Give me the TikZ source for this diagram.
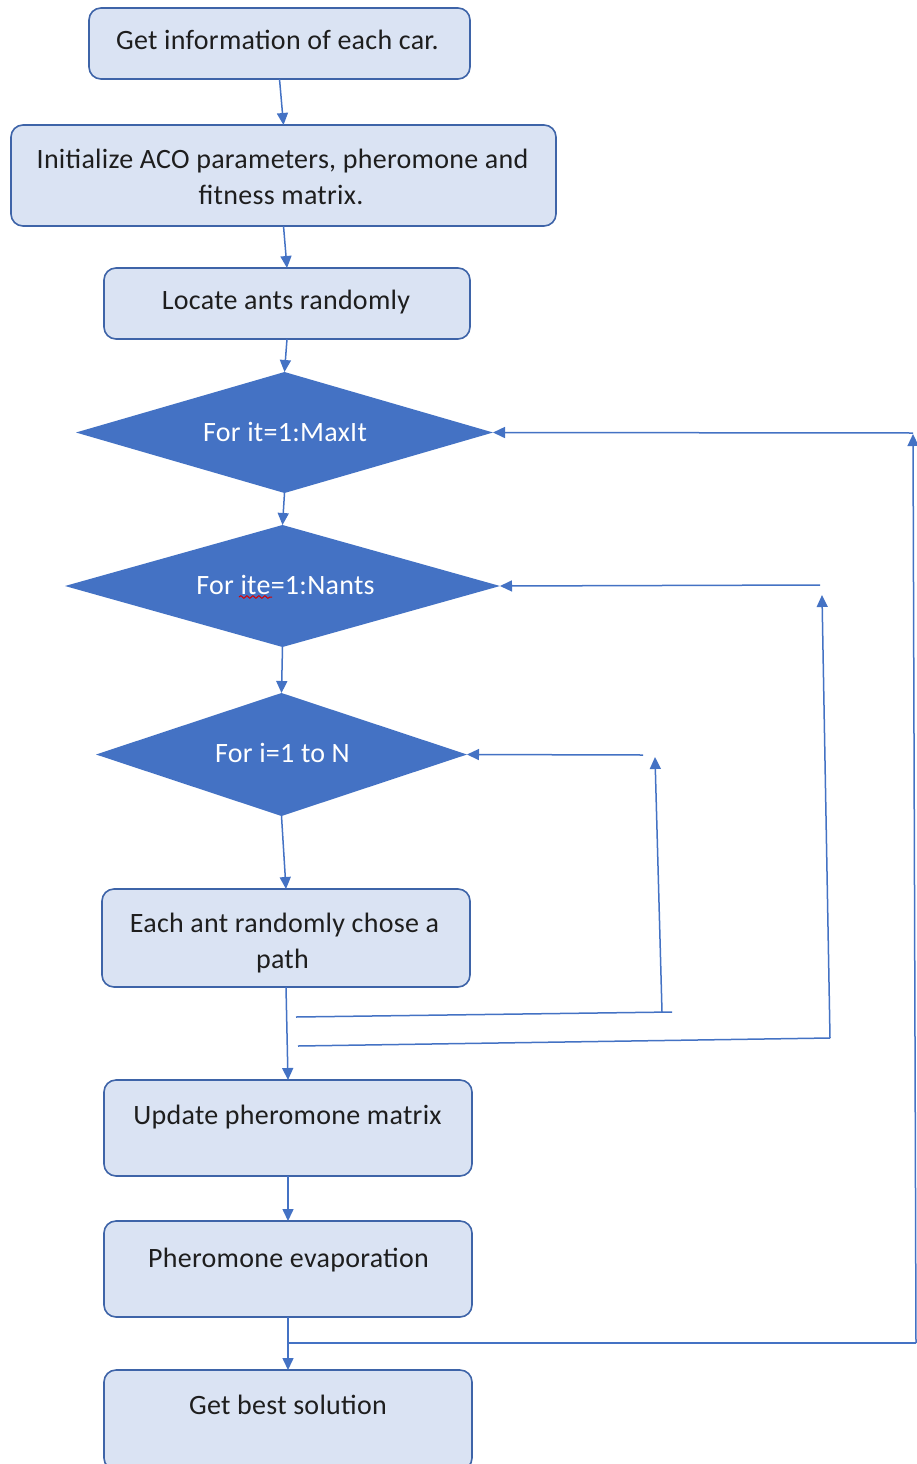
\documentclass[tikz,border=0pt]{standalone}
\usepackage{fontspec}
\setmainfont[LetterSpace=1.0]{Carlito}
\usetikzlibrary{shapes.geometric,arrows.meta,decorations.pathmorphing}
\definecolor{boxfill}{HTML}{DAE3F3}
\definecolor{boxline}{HTML}{3E64A8}
\definecolor{flow}{HTML}{4472C4}
\definecolor{textcol}{HTML}{1E1E1E}
\begin{document}
\begin{tikzpicture}[x=1pt,y=-1pt,
  stepbox/.style={draw=boxline, fill=boxfill, line width=1.6pt, rounded corners=12pt, inner sep=0pt, outer sep=0pt},
  loopdec/.style={shape=diamond, fill=flow, draw=none, inner sep=0pt, outer sep=0pt},
  txt/.style={anchor=base, inner sep=0pt, text=textcol, font=\fontsize{28}{34}\selectfont},
  wtxt/.style={txt, text=white},
  flowline/.style={draw=flow, line width=1.5pt},
  flowarrow/.style={flowline, -{Triangle[length=12pt,width=11pt]}}]
\useasboundingbox (0,0) rectangle (917,1464);
\fill[white] (0,0) rectangle (917,1464);

% process boxes
\node[stepbox, minimum width=381pt, minimum height=71pt] (b1) at (279.5,43.5) {};
\node[stepbox, minimum width=545pt, minimum height=101pt] (b2) at (283.5,175.5) {};
\node[stepbox, minimum width=366pt, minimum height=71pt] (b3) at (287,303.5) {};
\node[stepbox, minimum width=368pt, minimum height=98pt] (b4) at (286,938) {};
\node[stepbox, minimum width=368pt, minimum height=96pt] (b5) at (288,1128) {};
\node[stepbox, minimum width=368pt, minimum height=96pt] (b6) at (288,1269) {};
\node[stepbox, minimum width=368pt, minimum height=100pt] (b7) at (288,1420) {};

% loop headers
\node[loopdec, minimum width=417pt, minimum height=121pt] (d1) at (284.5,432.5) {};
\node[loopdec, minimum width=435pt, minimum height=122pt] (d2) at (282.5,586) {};
\node[loopdec, minimum width=371pt, minimum height=123pt] (d3) at (281.5,754.5) {};

% labels
\node[txt] (t1) at (277.5,49) {Get information of each car.};
\node[txt] (t2a) at (282.5,168) {Initialize ACO parameters, pheromone and};
\node[txt] (t2b) at (281,204) {fitness matrix.};
\node[txt] (t3) at (286,309) {Locate ants randomly};
\node[wtxt] (t4) at (285,441) {For it=1:MaxIt};
\node[wtxt] (t5) at (285.5,594) {For ite=1:Nants};
\node[wtxt] (t6) at (282.5,762) {For i=1 to N};
\node[txt] (t7a) at (284.5,932) {Each ant randomly chose a};
\node[txt] (t7b) at (282.5,968) {path};
\node[txt] (t8) at (287.5,1124) {Update pheromone matrix};
\node[txt] (t9) at (288.5,1267) {Pheromone evaporation};
\node[txt] (t10) at (288,1414) {Get best solution};

% spelling mark under "ite"
\draw[red!85!black, line width=1pt, decorate, decoration={snake, amplitude=1.3pt, segment length=6pt}] (239,597) -- (272,597);

% main flow
\draw[flowarrow] (b1.south) -- (b2.north);
\draw[flowarrow] (b2.south) -- (b3.north);
\draw[flowarrow] (b3.south) -- (d1.north);
\draw[flowarrow] (d1.south) -- (d2.north);
\draw[flowarrow] (d2.south) -- (d3.north);
\draw[flowarrow] (d3.south) -- (b4.north);
\draw[flowarrow] (b4.south) -- (b5.north);
\draw[flowarrow] (b5.south) -- (b6.north);
\draw[flowarrow] (b6.south) -- (b7.north);

% inner loop back to "For i=1 to N"
\coordinate (p1a) at (296,1017);
\coordinate (p1b) at (672,1012);
\coordinate (p1c) at (662,1012);
\coordinate (p1d) at (655,757);
\coordinate (p1e) at (643,755);
\draw[flowline] (p1a) -- (p1b);
\draw[flowarrow] (p1c) -- (p1d);
\draw[flowarrow] (p1e) -- (d3.east);

% middle loop back to "For ite=1:Nants"
\coordinate (p2a) at (298,1046);
\coordinate (p2b) at (830,1038);
\coordinate (p2d) at (822,595);
\coordinate (p2e) at (820,585);
\draw[flowline] (p2a) -- (p2b);
\draw[flowarrow] (p2b) -- (p2d);
\draw[flowarrow] (p2e) -- (d2.east);

% outer loop back to "For it=1:MaxIt"
\coordinate (p3a) at (288,1343);
\coordinate (p3b) at (916,1343);
\coordinate (p3d) at (913,434);
\coordinate (p3e) at (913,433);
\draw[flowline] (p3a) -- (p3b);
\draw[flowarrow] (p3b) -- (p3d);
\draw[flowarrow] (p3e) -- (d1.east);
\end{tikzpicture}
\end{document}
